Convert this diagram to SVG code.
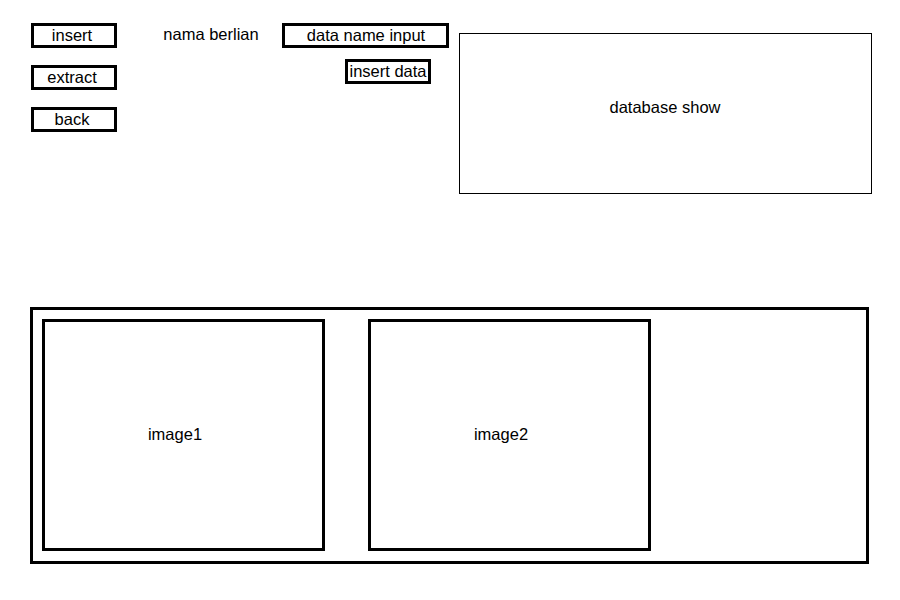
<svg xmlns="http://www.w3.org/2000/svg" width="900" height="600" viewBox="0 0 900 600">
<style>
.b{fill:#fff;stroke:#000;stroke-width:3}
.t{font-family:"Liberation Sans",Arial,sans-serif;font-size:16.5px;fill:#000;text-anchor:middle;dominant-baseline:central}
</style>
<rect width="900" height="600" fill="#fff"/>
<g id="insert"><rect class="b" x="32.5" y="24.5" width="83" height="22"/><text class="t" x="72" y="35">insert</text></g>
<g id="extract"><rect class="b" x="32.5" y="66.5" width="83" height="22"/><text class="t" x="72" y="77">extract</text></g>
<g id="back"><rect class="b" x="32.5" y="108.5" width="83" height="22"/><text class="t" x="72" y="119">back</text></g>
<g id="nama"><text class="t" x="211" y="34">nama berlian</text></g>
<g id="dataname"><rect class="b" x="283.5" y="24.5" width="164" height="22"/><text class="t" x="366" y="35">data name input</text></g>
<g id="insertdata"><rect class="b" x="346.5" y="60.5" width="83" height="22"/><text class="t" x="388" y="71">insert data</text></g>
<g id="dbshow"><rect fill="#fff" stroke="#000" stroke-width="1" x="459.5" y="33.5" width="412" height="160"/><text class="t" x="665" y="106.5">database show</text></g>
<g id="panel"><rect class="b" x="31.5" y="308.5" width="836" height="254"/></g>
<g id="image1"><rect class="b" x="43.5" y="320.5" width="280" height="229"/><text class="t" x="175" y="434">image1</text></g>
<g id="image2"><rect class="b" x="369.5" y="320.5" width="280" height="229"/><text class="t" x="501" y="434">image2</text></g>
<g id="connectors"/>
</svg>
